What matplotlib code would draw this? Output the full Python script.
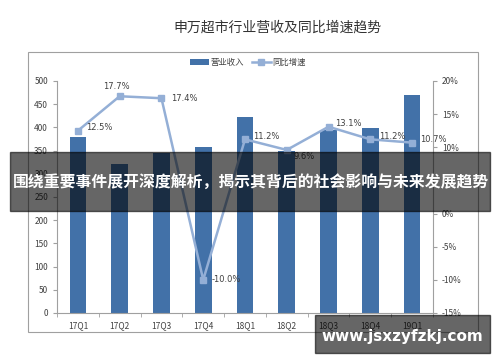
import matplotlib
matplotlib.use("Agg")
import matplotlib.pyplot as plt
from matplotlib.patches import Rectangle
from matplotlib.ticker import FuncFormatter

plt.rcParams['font.family'] = ['Noto Sans CJK SC', 'DejaVu Sans']

# data
quarters = ['17Q1', '17Q2', '17Q3', '17Q4', '18Q1', '18Q2', '18Q3', '18Q4', '19Q1']
revenue = [379, 321, 345, 358, 422, 350, 394, 399, 470]
growth = [12.5, 17.7, 17.4, -10.0, 11.2, 9.6, 13.1, 11.2, 10.7]

title = '申万超市行业营收及同比增速趋势'
banner = '围绕重要事件展开深度解析，揭示其背后的社会影响与未来发展趋势'
site = 'www.jsxzyfzkj.com'

bar_col = '#4271a8'
line_col = '#94afd6'
txt_col = '#404040'

fig = plt.figure(figsize=(5, 3.62), dpi=100)

# outer chart border
fig.patches.append(Rectangle((28/500, 1-332/362), 450/500, 280/362,
                             transform=fig.transFigure, fill=False,
                             edgecolor='#a0a0a0', lw=0.8))

fig.text(277/500, 1-28/362, title, ha='center', va='center',
         fontsize=10, color='#333333')

ax = fig.add_axes([57/500, 1-313/362, 376/500, 232/362])
x = list(range(len(quarters)))
b = ax.bar(x, revenue, width=0.4, color=bar_col, label='营业收入', zorder=2)
ax.set_xlim(-0.5, 8.5)
ax.set_ylim(0, 500)
ax.set_yticks(range(0, 501, 50))
ax.set_xticks(x)
ax.set_xticklabels(quarters)
ax.set_xticks([i + 0.5 for i in range(-1, 9)], minor=True)
ax.tick_params(axis='x', which='major', length=0, labelsize=6, colors=txt_col, pad=6)
ax.tick_params(axis='x', which='minor', length=3, color='#a0a0a0', direction='out')
ax.tick_params(axis='y', labelsize=6, colors=txt_col, length=3, color='#a0a0a0')
for s in ['top', 'right']:
    ax.spines[s].set_visible(False)
for s in ['left', 'bottom']:
    ax.spines[s].set_color('#a0a0a0')
    ax.spines[s].set_linewidth(0.8)

ax2 = ax.twinx()
l, = ax2.plot(x, growth, color=line_col, lw=1.8, marker='s', ms=5,
              label='同比增速', zorder=3)
ax2.set_ylim(-15, 20)
ax2.set_yticks(range(-15, 21, 5))
ax2.yaxis.set_major_formatter(FuncFormatter(lambda v, p: f'{v:.0f}%'))
ax2.tick_params(axis='y', labelsize=6, colors=txt_col, length=3, color='#a0a0a0')
for s in ['top', 'left', 'bottom']:
    ax2.spines[s].set_visible(False)
ax2.spines['right'].set_color('#a0a0a0')
ax2.spines['right'].set_linewidth(0.8)

offsets = [(6, 2), (-2, 7), (7, 0), (6, 0), (6, 2), (5, -5), (5, 2), (6, 2), (6, 2)]
for xi, g, off in zip(x, growth, offsets):
    ha = 'center' if off[1] > 5 else 'left'
    ax2.annotate(f'{g:.1f}%', (xi, g), xytext=off, textcoords='offset points',
                 ha=ha, va='center', fontsize=6, color=txt_col,
                 family=['DejaVu Sans'])

fig.legend([b, l], ['营业收入', '同比增速'], loc='center', ncol=2,
           bbox_to_anchor=(248/500, 1-62/362), frameon=False, fontsize=6,
           handlelength=2.2, columnspacing=1.0, handletextpad=0.2,
           labelcolor=txt_col)

# watermark banners
fig.patches.append(Rectangle((10/500, 1-211/362), 480/500, 59/362,
                             transform=fig.transFigure, color='black',
                             alpha=0.6, zorder=10))
fig.text(251/500, 1-182/362, banner, ha='center', va='center', fontsize=11.4,
         color='white', weight='bold', zorder=11)
fig.patches.append(Rectangle((315/500, 1-353/362), 175/500, 38/362,
                             transform=fig.transFigure, color='black',
                             alpha=0.6, zorder=10))
fig.text(402/500, 1-336/362, site, ha='center', va='center', fontsize=11,
         color='white', weight='bold', family=['DejaVu Sans'], zorder=11)

fig.savefig('out.png', dpi=100)
